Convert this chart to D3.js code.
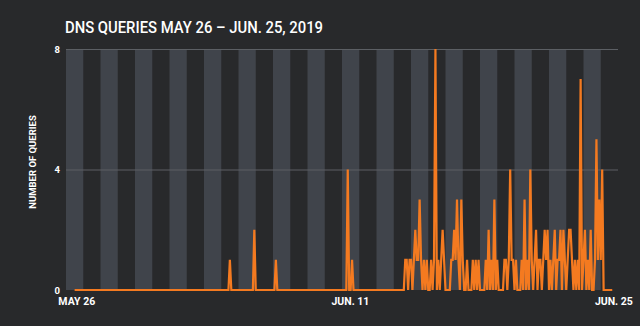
<!DOCTYPE html>
<html><head><meta charset="utf-8">
<script src="https://cdn.jsdelivr.net/npm/d3@7"></script>
<style>
html,body{margin:0;padding:0;background:#28292b;}
svg{display:block;}
text{font-family:Roboto,"Noto Sans",sans-serif;}
</style></head>
<body>
<svg id="chart" width="640" height="326"></svg>
<script>
// ---- data ----
const title = "DNS QUERIES MAY 26 \u2013 JUN. 25, 2019";
const yLabel = "NUMBER OF QUERIES";
const yTicks = [0, 4, 8];
// x axis in hours from start of first day band; one band per day
const dayCount = 32;
const xTickHours = [14.3, 395, 761.5];
const xTickLabels = ["MAY 26", "JUN. 11", "JUN. 25"];
const seriesStartHour = 12;   // first sample
const seriesStepHours = 2;    // sampling step
// DNS query counts per 2-hour bucket
const queries = [
  0,0,0,0,0,0,0,0,0,0,0,0,0,0,0,0,0,0,0,0,0,0,0,0,0,
  0,0,0,0,0,0,0,0,0,0,0,0,0,0,0,0,0,0,0,0,0,0,0,0,0,
  0,0,0,0,0,0,0,0,0,0,0,0,0,0,0,0,0,0,0,0,0,0,0,0,0,
  0,0,0,0,0,0,0,0,0,0,0,0,0,0,0,0,0,0,0,0,0,0,0,0,0,
  0,0,0,0,0,0,0,0,1,0,0,0,0,0,0,0,0,0,0,0,0,0,0,0,0,
  2,0,0,0,0,0,0,0,0,0,0,0,0,0,0,1,0,0,0,0,0,0,0,0,0,
  0,0,0,0,0,0,0,0,0,0,0,0,0,0,0,0,0,0,0,0,0,0,0,0,0,
  0,0,0,0,0,0,0,0,0,0,0,0,0,0,0,4,0,0,1,0,0,0,0,0,0,
  0,0,0,0,0,0,0,0,0,0,0,0,0,0,0,0,0,0,0,0,0,0,0,0,0,
  0,0,0,0,0,1,1,0,1,1,0,1,2,1,1,3,1,0,1,0,1,0,0,1,0,
  1,8,0,1,0,1,2,1,0,0,0,0,1,1,2,1,3,1,0,3,1,0,0,1,0,
  0,0,1,0,1,0,1,0,0,0,0,1,0,2,0,1,0,3,0,1,0,0,0,0,1,
  1,0,1,4,1,1,0,1,0,0,0,1,0,3,0,1,0,4,1,0,1,2,0,1,1,
  0,1,2,1,2,0,1,0,1,2,0,1,1,2,0,2,1,0,1,2,2,1,0,1,0,
  1,0,7,0,1,2,0,1,0,2,0,0,1,5,1,3,1,4,0,0,0,0,0,0,0
];

// ---- layout ----
const svg = d3.select("#chart");
const mLeft = 66, mRight = 618, mTop = 49, mBottom = 290;

const x = d3.scaleLinear().domain([0, dayCount * 24]).range([mLeft, mRight]);
const y = d3.scaleLinear().domain([0, 8]).range([mBottom, mTop]);

// day bands
svg.append("g").selectAll("rect")
  .data(d3.range(dayCount).filter(d => d % 2 === 0))
  .join("rect")
  .attr("x", d => x(d * 24))
  .attr("width", d => x((d + 1) * 24) - x(d * 24))
  .attr("y", mTop)
  .attr("height", mBottom - mTop)
  .attr("fill", "#40444b");

// gridlines
const grid = svg.append("g").attr("transform", `translate(${mLeft},0)`)
  .call(d3.axisLeft(y).tickValues([4, 8]).tickSize(-(mRight - mLeft)).tickFormat(""));
grid.select(".domain").remove();
grid.selectAll("line").attr("stroke", "#5c5f64").attr("stroke-width", 1);

// y axis labels
const ya = svg.append("g").attr("transform", `translate(${mLeft - 6},0)`)
  .call(d3.axisLeft(y).tickValues(yTicks).tickSize(0).tickPadding(0));
ya.select(".domain").remove();
ya.selectAll("text").attr("fill", "#ffffff").attr("font-size", 9.5)
  .attr("font-weight", 700).attr("font-family", "Roboto, sans-serif");

// x axis labels
const xa = svg.append("g").attr("transform", `translate(0,${mBottom})`)
  .call(d3.axisBottom(x).tickValues(xTickHours).tickSize(0).tickPadding(8)
    .tickFormat((d, i) => xTickLabels[i]));
xa.select(".domain").remove();
xa.selectAll("text").attr("fill", "#ffffff").attr("font-size", 10.5)
  .attr("font-weight", 700).attr("font-family", "Roboto, sans-serif");

// line
const line = d3.line()
  .x((d, i) => x(seriesStartHour + i * seriesStepHours))
  .y(d => y(d));
svg.append("path").datum(queries)
  .attr("d", line)
  .attr("fill", "none")
  .attr("stroke", "#f47a20")
  .attr("stroke-width", 2.2)
  .attr("stroke-linejoin", "miter");

// title
svg.append("text")
  .attr("x", 65).attr("y", 32.5)
  .attr("fill", "#ffffff")
  .attr("font-size", 17).attr("font-weight", 500)
  .attr("textLength", 258).attr("lengthAdjust", "spacingAndGlyphs")
  .text(title);

// y axis title
svg.append("text")
  .attr("transform", "translate(36,162) rotate(-90)")
  .attr("text-anchor", "middle")
  .attr("fill", "#ffffff")
  .attr("font-size", 9.5).attr("font-weight", 700)
  .text(yLabel);
</script>
</body></html>
